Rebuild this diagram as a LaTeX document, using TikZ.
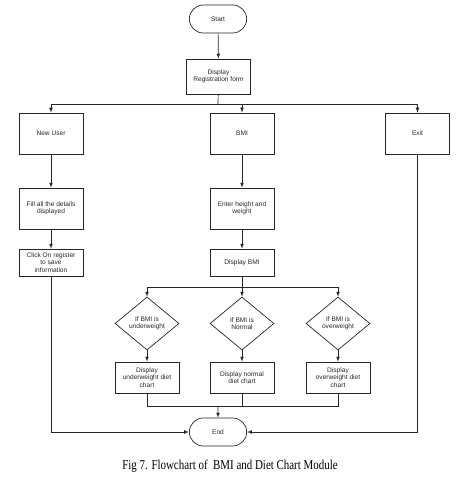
\documentclass[tikz,border=0pt]{standalone}
\usepackage{fontspec}
\setmainfont{Liberation Serif}
\setsansfont{Liberation Sans}
\usetikzlibrary{%
	arrows,%
	shapes,%
	positioning
}

\begin{document}
\begin{tikzpicture}[x=1pt,y=-1pt,>=latex,line width=0.7pt,draw=black!85,
	every node/.style={font=\sffamily\fontsize{6.6}{7.3}\selectfont, align=center, text=black!85},
	termbox/.style={draw, rounded rectangle, minimum width=64pt, minimum height=28pt},
	procbox/.style={draw, rectangle, minimum width=64pt, minimum height=41pt, inner sep=1pt},
	decbox/.style={draw, diamond, minimum width=64pt, minimum height=53pt, inner sep=0pt}]
	\useasboundingbox (0,0) rectangle (474,478);
	
	% Start and registration
	\node[termbox] (start) at (218,19) {Start};
	\node[procbox, minimum height=35pt] (reg) at (218.5,76.5) {Display\\Registration form};
	
	% Three options
	\node[procbox] (newuser) at (51,133.5) {New User};
	\node[procbox] (bmi) at (242,133.5) {BMI};
	\node[procbox] (exit) at (417.5,133.5) {Exit};
	
	% New user branch
	\node[procbox] (fill) at (51,208.5) {Fill all the details\\displayed};
	\node[procbox, minimum height=27pt] (register) at (51,262.5) {Click On register\\to save\\information};
	
	% BMI branch
	\node[procbox] (height) at (242,208.5) {Enter height and\\weight};
	\node[procbox, minimum height=27pt] (showbmi) at (242,262.5) {Display BMI};
	
	\node[decbox] (under) at (147,323.5) {If BMI is\\underweight};
	\node[decbox] (normal) at (242,323.5) {If BMI is\\Normal};
	\node[decbox] (over) at (338,323.5) {If BMI is\\overweight};
	
	\node[procbox, minimum height=31pt] (underchart) at (147,377.5) {Display\\underweight diet\\chart};
	\node[procbox, minimum height=31pt] (normalchart) at (242,377.5) {Display normal\\diet chart};
	\node[procbox, minimum height=31pt] (overchart) at (338,377.5) {Display\\overweight diet\\chart};
	
	% End
	\node[termbox] (end) at (218,432) {End};
	
	% Caption
	\node[font=\rmfamily\fontsize{13.5}{16}\selectfont, text=black] (caption) at (230,466)
		{\scalebox{0.81}[1]{Fig 7. Flowchart of \ BMI and Diet Chart Module}};
	
	% Connectors
	\coordinate (regsplit) at (218,104);
	\coordinate (bmisplit) at (242,287);
	\coordinate (chartjoin) at (218,406);
	
	\draw[->] (start) -- (reg);
	\draw (reg) -- (regsplit);
	\draw[->] (regsplit) -| (newuser);
	\draw[->] (regsplit) -| (bmi);
	\draw[->] (regsplit) -| (exit);
	
	\draw[->] (newuser) -- (fill);
	\draw[->] (fill) -- (register);
	\draw[->] (register) |- (end);
	\draw[->] (exit) |- (end);
	
	\draw[->] (bmi) -- (height);
	\draw[->] (height) -- (showbmi);
	\draw (showbmi) -- (bmisplit);
	\draw[->] (bmisplit) -| (under);
	\draw[->] (bmisplit) -- (normal);
	\draw[->] (bmisplit) -| (over);
	
	\draw[->] (under) -- (underchart);
	\draw[->] (normal) -- (normalchart);
	\draw[->] (over) -- (overchart);
	
	\draw (underchart) |- (chartjoin);
	\draw (normalchart) |- (chartjoin);
	\draw (overchart) |- (chartjoin);
	\draw[->] (chartjoin) -- (end);
\end{tikzpicture}
\end{document}
